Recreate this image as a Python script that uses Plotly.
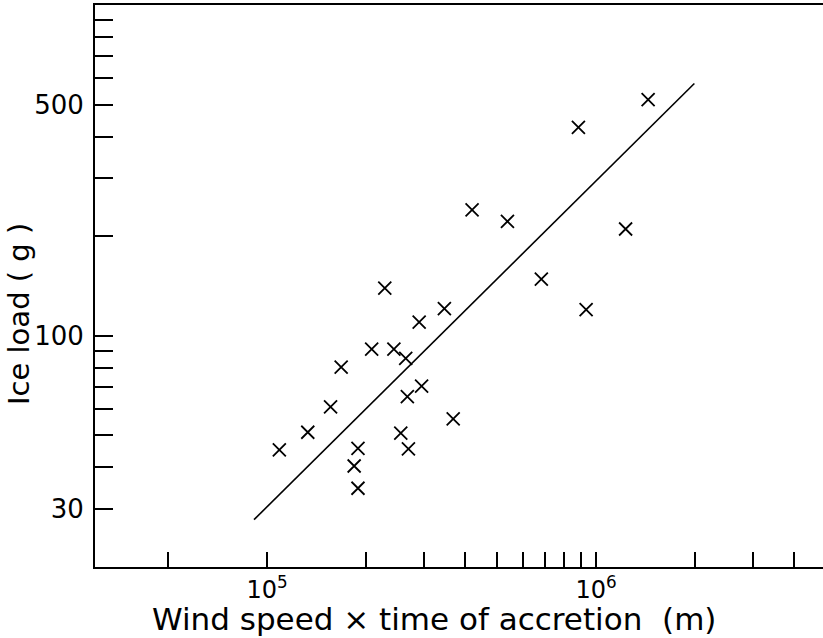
import math
import plotly.graph_objects as go

# Data (wind speed x time of accretion [m], ice load [g])
wind_time = [1.09e5, 1.33e5, 1.56e5, 1.68e5, 1.84e5, 1.89e5, 1.89e5, 2.08e5,
             2.28e5, 2.43e5, 2.55e5, 2.64e5, 2.67e5, 2.69e5, 2.90e5, 2.95e5,
             3.46e5, 3.68e5, 4.20e5, 5.38e5, 6.82e5, 8.84e5, 9.33e5, 1.23e6,
             1.44e6]
ice_load = [45.2, 51.1, 61.0, 80.4, 40.4, 45.7, 34.6, 91.1,
            139.4, 91.1, 50.8, 85.4, 65.5, 45.5, 110.0, 70.4,
            120.9, 56.1, 240.1, 221.7, 148.4, 426.9, 119.9, 210.3,
            517.8]

# Fitted line end points
fit_x = [9.13e4, 1.99e6]
fit_y = [27.8, 579.0]

# Tick definitions
x_tickvals = [5e4, 1e5, 2e5, 3e5, 4e5, 5e5, 6e5, 7e5, 8e5, 9e5, 1e6, 2e6, 3e6, 4e6]
x_ticktext = ["", "10<sup>5</sup>", "", "", "", "", "", "", "", "", "10<sup>6</sup>", "", "", ""]
y_tickvals = [30, 40, 50, 60, 70, 80, 90, 100, 200, 300, 400, 500, 600, 700, 800, 900]
y_ticktext = ["30", "", "", "", "", "", "", "100", "", "", "", "500", "", "", "", ""]

x_title = "Wind speed × time of accretion  (m)"
y_title = "Ice load ( g )"

FONT = "DejaVu Sans, Verdana, sans-serif"

# plot area geometry (pixels)
L, R, T, B = 95, 0, 5, 71
PW = 823 - L - R
PH = 638 - T - B

fig = go.Figure()
fig.add_trace(go.Scatter(
    x=fit_x, y=fit_y, mode="lines",
    line=dict(color="black", width=1.6), showlegend=False, hoverinfo="skip"))
fig.add_trace(go.Scatter(
    x=wind_time, y=ice_load, mode="markers",
    marker=dict(symbol="x-thin", size=13, line=dict(color="black", width=1.8)),
    showlegend=False))

x_lo = math.log10(3e4)
x_hi = x_lo + PW / 329.0

fig.update_layout(
    width=823, height=638,
    margin=dict(l=L, r=R, t=T, b=B, autoexpand=False),
    paper_bgcolor="white", plot_bgcolor="white",
    font=dict(family=FONT, color="black", size=22),
    xaxis=dict(
        type="log", range=[x_lo, x_hi], automargin=False,
        tickvals=x_tickvals, ticktext=x_ticktext,
        ticks="inside", ticklen=15, tickwidth=1.5, tickcolor="black",
        showline=True, linecolor="black", linewidth=2, mirror=True,
        showgrid=False, zeroline=False,
        tickfont=dict(size=24, family=FONT),
    ),
    yaxis=dict(
        type="log", range=[math.log10(20), math.log10(1000)], automargin=False,
        tickvals=y_tickvals, ticktext=y_ticktext,
        ticks="inside", ticklen=18, tickwidth=1.5, tickcolor="black",
        showline=True, linecolor="black", linewidth=2,
        showgrid=False, zeroline=False,
        tickfont=dict(size=26, family=FONT),
        ticklabelstandoff=4,
    ),
    annotations=[
        dict(text=x_title, xref="paper", yref="paper",
             x=(434 - L) / PW, y=(567 - 619) / PH,
             xanchor="center", yanchor="middle", showarrow=False,
             font=dict(size=31, family=FONT, color="black")),
        dict(text=y_title, xref="paper", yref="paper",
             x=(19 - L) / PW, y=(567 - 314) / PH, textangle=-90,
             xanchor="center", yanchor="middle", showarrow=False,
             font=dict(size=29, family=FONT, color="black")),
    ],
)

fig.write_html(
    "out.html",
    config={"displayModeBar": False},
    post_script="document.body.style.margin='0';document.body.style.padding='0';",
)
